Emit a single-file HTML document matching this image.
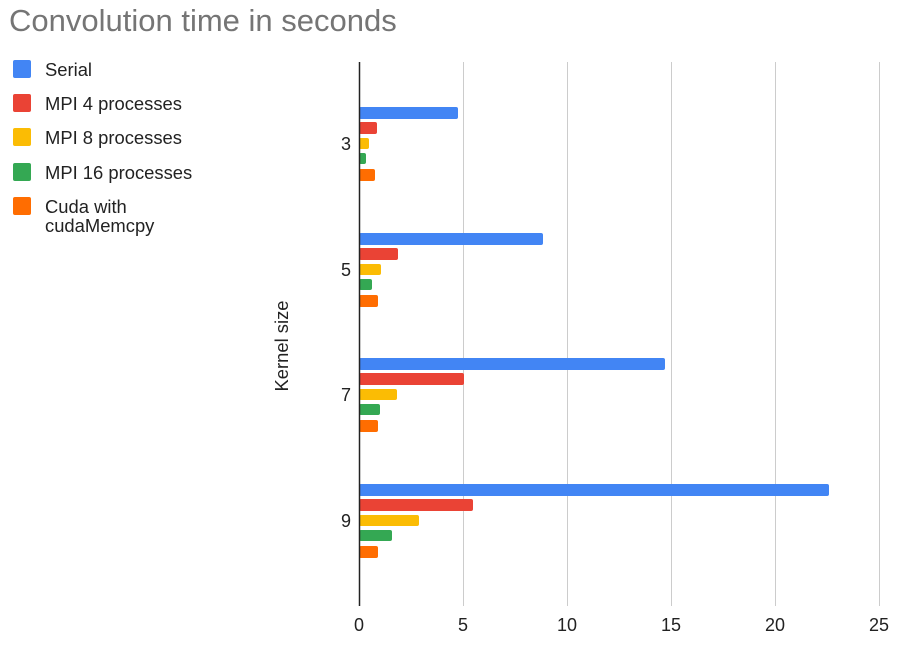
<!DOCTYPE html>
<html><head><style>
body{margin:0;width:912px;height:646px;background:#fff;overflow:hidden;font-family:"Liberation Sans",Arial,sans-serif}
</style></head><body>
<svg width="912" height="646" xmlns="http://www.w3.org/2000/svg" font-family="Liberation Sans, Arial, sans-serif">
<text x="9" y="31" font-size="31" fill="#757575">Convolution time in seconds</text>
<g font-size="18.4" fill="#222">
<rect x="13" y="60" width="18" height="18" rx="2" fill="#4285f4"/><text x="45" y="76">Serial</text>
<rect x="13" y="94" width="18" height="18" rx="2" fill="#ea4335"/><text x="45" y="110">MPI 4 processes</text>
<rect x="13" y="128" width="18" height="18" rx="2" fill="#fbbc04"/><text x="45" y="144">MPI 8 processes</text>
<rect x="13" y="163" width="18" height="18" rx="2" fill="#34a853"/><text x="45" y="179">MPI 16 processes</text>
<rect x="13" y="197" width="18" height="18" rx="2" fill="#ff6d01"/><text x="45" y="213">Cuda with</text><text x="45" y="232">cudaMemcpy</text>
</g>
<g stroke="#ccc" stroke-width="1">
<line x1="463.5" y1="62" x2="463.5" y2="606"/>
<line x1="567.5" y1="62" x2="567.5" y2="606"/>
<line x1="671.5" y1="62" x2="671.5" y2="606"/>
<line x1="775.5" y1="62" x2="775.5" y2="606"/>
<line x1="879.5" y1="62" x2="879.5" y2="606"/>
</g>
<g id="bars">
<rect x="359" y="107" width="99" height="12" rx="2" fill="#4285f4"/>
<rect x="359" y="122" width="18" height="12" rx="2" fill="#ea4335"/>
<rect x="359" y="138" width="10" height="11" rx="2" fill="#fbbc04"/>
<rect x="359" y="153" width="7" height="11" rx="2" fill="#34a853"/>
<rect x="359" y="169" width="16" height="12" rx="2" fill="#ff6d01"/>

<rect x="359" y="233" width="184" height="12" rx="2" fill="#4285f4"/>
<rect x="359" y="248" width="39" height="12" rx="2" fill="#ea4335"/>
<rect x="359" y="264" width="22" height="11" rx="2" fill="#fbbc04"/>
<rect x="359" y="279" width="13" height="11" rx="2" fill="#34a853"/>
<rect x="359" y="295" width="19" height="12" rx="2" fill="#ff6d01"/>

<rect x="359" y="358" width="306" height="12" rx="2" fill="#4285f4"/>
<rect x="359" y="373" width="105" height="12" rx="2" fill="#ea4335"/>
<rect x="359" y="389" width="38" height="11" rx="2" fill="#fbbc04"/>
<rect x="359" y="404" width="21" height="11" rx="2" fill="#34a853"/>
<rect x="359" y="420" width="19" height="12" rx="2" fill="#ff6d01"/>

<rect x="359" y="484" width="470" height="12" rx="2" fill="#4285f4"/>
<rect x="359" y="499" width="114" height="12" rx="2" fill="#ea4335"/>
<rect x="359" y="515" width="60" height="11" rx="2" fill="#fbbc04"/>
<rect x="359" y="530" width="33" height="11" rx="2" fill="#34a853"/>
<rect x="359" y="546" width="19" height="12" rx="2" fill="#ff6d01"/>
</g>
<line x1="359.5" y1="62" x2="359.5" y2="606" stroke="#222" stroke-width="1.5"/>
<g font-size="18" fill="#222" text-anchor="end">
<text x="351" y="150">3</text><text x="351" y="276">5</text><text x="351" y="401">7</text><text x="351" y="527">9</text>
</g>
<g font-size="18" fill="#222" text-anchor="middle">
<text x="359" y="631">0</text><text x="463" y="631">5</text><text x="567" y="631">10</text><text x="671" y="631">15</text><text x="775" y="631">20</text><text x="879" y="631">25</text>
</g>
<text transform="translate(288,346) rotate(-90)" font-size="18.4" fill="#222" text-anchor="middle">Kernel size</text>
</svg>
</body></html>
